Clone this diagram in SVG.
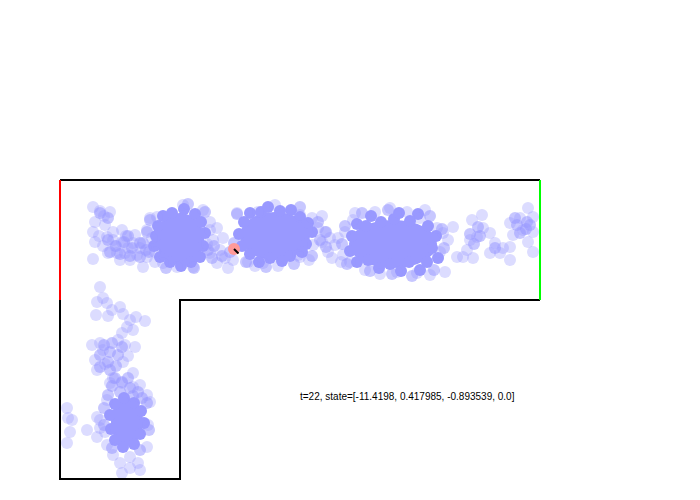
<svg xmlns="http://www.w3.org/2000/svg" width="700" height="500" viewBox="0 0 700 500">
<style>
.p circle,.p ellipse{fill:#9999ff;fill-opacity:.34}
.p .k{fill-opacity:1}
.p .m{fill-opacity:.55}
.w{fill:none;stroke:#000;stroke-width:2}
text{font-family:"Liberation Sans",Arial,sans-serif;font-size:10px;fill:#000}
</style>
<rect width="700" height="500" fill="#fff"/>
<g id="particles" class="p">
<!-- blob 1 -->
<ellipse class="k" cx="180" cy="239" rx="24" ry="26"/>
<circle class="k" cx="158" cy="226" r="6"/><circle class="k" cx="163" cy="216" r="6"/><circle class="k" cx="172" cy="213" r="6"/><circle class="k" cx="184" cy="209" r="6"/><circle class="k" cx="195" cy="214" r="6"/><circle class="k" cx="201" cy="222" r="6"/><circle class="k" cx="205" cy="233" r="6"/><circle class="k" cx="203" cy="246" r="6"/><circle class="k" cx="200" cy="257" r="6"/><circle class="k" cx="191" cy="262" r="6"/><circle class="k" cx="181" cy="266" r="6"/><circle class="k" cx="170" cy="262" r="6"/><circle class="k" cx="160" cy="257" r="6"/><circle class="k" cx="154" cy="246" r="6"/><circle class="k" cx="156" cy="236" r="6"/>
<circle class="m" cx="150" cy="220" r="6"/><circle class="m" cx="205" cy="212" r="6"/><circle class="m" cx="208" cy="250" r="6"/><circle class="m" cx="194" cy="268" r="6"/><circle class="m" cx="166" cy="268" r="6"/><circle class="m" cx="149" cy="252" r="6"/><circle class="m" cx="147" cy="232" r="6"/><circle class="m" cx="188" cy="204" r="6"/><circle class="m" cx="143" cy="243" r="6"/>
<!-- blob 2 -->
<ellipse class="k" cx="275" cy="236" rx="35" ry="24"/>
<circle class="k" cx="244" cy="222" r="6"/><circle class="k" cx="250" cy="213" r="6"/><circle class="k" cx="261" cy="212" r="6"/><circle class="k" cx="268" cy="207" r="6"/><circle class="k" cx="280" cy="211" r="6"/><circle class="k" cx="291" cy="210" r="6"/><circle class="k" cx="300" cy="217" r="6"/><circle class="k" cx="308" cy="223" r="6"/><circle class="k" cx="312" cy="232" r="6"/><circle class="k" cx="306" cy="244" r="6"/><circle class="k" cx="302" cy="252" r="6"/><circle class="k" cx="290" cy="256" r="6"/><circle class="k" cx="282" cy="261" r="6"/><circle class="k" cx="270" cy="258" r="6"/><circle class="k" cx="259" cy="262" r="6"/><circle class="k" cx="250" cy="254" r="6"/><circle class="k" cx="242" cy="246" r="6"/><circle class="k" cx="239" cy="234" r="6"/>
<circle class="m" cx="237" cy="214" r="6"/><circle class="m" cx="300" cy="207" r="6"/><circle class="m" cx="318" cy="222" r="6"/><circle class="m" cx="320" cy="240" r="6"/><circle class="m" cx="326" cy="247" r="6"/><circle class="m" cx="312" cy="256" r="6"/><circle class="m" cx="294" cy="264" r="6"/><circle class="m" cx="266" cy="267" r="6"/><circle class="m" cx="246" cy="262" r="6"/><circle class="m" cx="234" cy="243" r="6"/><circle class="m" cx="326" cy="232" r="6"/>
<!-- blob 3 -->
<ellipse class="k" cx="393" cy="244" rx="44" ry="24"/>
<circle class="k" cx="352" cy="236" r="6"/><circle class="k" cx="357" cy="224" r="6"/><circle class="k" cx="366" cy="226" r="6"/><circle class="k" cx="371" cy="216" r="6"/><circle class="k" cx="381" cy="222" r="6"/><circle class="k" cx="394" cy="219" r="6"/><circle class="k" cx="399" cy="213" r="6"/><circle class="k" cx="410" cy="221" r="6"/><circle class="k" cx="418" cy="214" r="6"/><circle class="k" cx="428" cy="226" r="6"/><circle class="k" cx="436" cy="236" r="6"/><circle class="k" cx="432" cy="248" r="6"/><circle class="k" cx="438" cy="258" r="6"/><circle class="k" cx="427" cy="262" r="6"/><circle class="k" cx="420" cy="270" r="6"/><circle class="k" cx="409" cy="262" r="6"/><circle class="k" cx="401" cy="271" r="6"/><circle class="k" cx="390" cy="264" r="6"/><circle class="k" cx="379" cy="268" r="6"/><circle class="k" cx="368" cy="260" r="6"/><circle class="k" cx="357" cy="262" r="6"/><circle class="k" cx="350" cy="251" r="6"/>
<circle class="m" cx="345" cy="226" r="6"/><circle class="m" cx="362" cy="213" r="6"/><circle class="m" cx="388" cy="210" r="6"/><circle class="m" cx="430" cy="216" r="6"/><circle class="m" cx="442" cy="229" r="6"/><circle class="m" cx="444" cy="248" r="6"/><circle class="m" cx="434" cy="270" r="6"/><circle class="m" cx="412" cy="276" r="6"/><circle class="m" cx="392" cy="274" r="6"/><circle class="m" cx="370" cy="271" r="6"/><circle class="m" cx="347" cy="264" r="6"/><circle class="m" cx="342" cy="244" r="6"/>
<!-- vertical core -->
<ellipse class="k" cx="127" cy="422" rx="16" ry="24"/>
<circle class="k" cx="115" cy="404" r="6"/><circle class="k" cx="124" cy="398" r="6"/><circle class="k" cx="134" cy="403" r="6"/><circle class="k" cx="141" cy="411" r="6"/><circle class="k" cx="144" cy="423" r="6"/><circle class="k" cx="140" cy="434" r="6"/><circle class="k" cx="134" cy="444" r="6"/><circle class="k" cx="123" cy="447" r="6"/><circle class="k" cx="115" cy="440" r="6"/><circle class="k" cx="111" cy="429" r="6"/><circle class="k" cx="110" cy="415" r="6"/>
<circle class="m" cx="104" cy="408" r="6"/><circle class="m" cx="147" cy="403" r="6"/><circle class="m" cx="149" cy="430" r="6"/><circle class="m" cx="140" cy="450" r="6"/><circle class="m" cx="112" cy="448" r="6"/><circle class="m" cx="104" cy="425" r="6"/>
<circle class="m" cx="115" cy="378" r="6"/><circle class="m" cx="122" cy="382" r="6"/><circle class="m" cx="112" cy="386" r="6"/><circle class="m" cx="130" cy="388" r="6"/><circle class="m" cx="138" cy="392" r="6"/><circle class="m" cx="142" cy="398" r="6"/><circle class="m" cx="120" cy="392" r="6"/><circle class="m" cx="133" cy="396" r="6"/><circle class="m" cx="108" cy="395" r="6"/><circle class="m" cx="128" cy="378" r="6"/>
<circle class="m" cx="104" cy="345" r="6"/><circle class="m" cx="112" cy="343" r="6"/><circle class="m" cx="110" cy="352" r="6"/><circle class="m" cx="100" cy="355" r="6"/><circle class="m" cx="118" cy="355" r="6"/><circle class="m" cx="108" cy="362" r="6"/><circle class="m" cx="116" cy="366" r="6"/><circle class="m" cx="100" cy="367" r="6"/><circle class="m" cx="122" cy="347" r="6"/><circle class="m" cx="110" cy="370" r="6"/>
<!-- left horizontal -->
<circle class="m" cx="108" cy="240" r="6"/><circle class="m" cx="116" cy="246" r="6"/><circle class="m" cx="124" cy="242" r="6"/><circle class="m" cx="132" cy="248" r="6"/><circle class="m" cx="140" cy="243" r="6"/><circle class="m" cx="146" cy="250" r="6"/><circle class="m" cx="120" cy="254" r="6"/><circle class="m" cx="130" cy="256" r="6"/><circle class="m" cx="140" cy="257" r="6"/><circle class="m" cx="110" cy="252" r="6"/><circle class="m" cx="100" cy="213" r="6"/><circle class="m" cx="108" cy="218" r="6"/><circle class="m" cx="128" cy="236" r="6"/>
<circle cx="93" cy="207" r="6"/><circle cx="100" cy="211" r="6"/><circle cx="110" cy="212" r="6"/><circle cx="104" cy="216" r="6"/><circle cx="95" cy="222" r="6"/><circle cx="105" cy="225" r="6"/><circle cx="93" cy="232" r="6"/><circle cx="99" cy="236" r="6"/><circle cx="95" cy="242" r="6"/><circle cx="107" cy="237" r="6"/><circle cx="113" cy="232" r="6"/><circle cx="122" cy="230" r="6"/><circle cx="122" cy="242" r="6"/><circle cx="115" cy="246" r="6"/><circle cx="108" cy="253" r="6"/><circle cx="117" cy="253" r="6"/><circle cx="125" cy="253" r="6"/><circle cx="133" cy="243" r="6"/><circle cx="137" cy="255" r="6"/><circle cx="130" cy="260" r="6"/><circle cx="143" cy="267" r="6"/><circle cx="93" cy="259" r="6"/><circle cx="128" cy="248" r="6"/><circle cx="140" cy="248" r="6"/><circle cx="120" cy="260" r="6"/><circle cx="113" cy="240" r="6"/><circle cx="126" cy="236" r="6"/><circle cx="135" cy="235" r="6"/><circle cx="103" cy="246" r="6"/>
<!-- blob 1 light -->
<circle cx="150" cy="218" r="6"/><circle cx="157" cy="217" r="6"/><circle cx="183" cy="205" r="6"/><circle cx="203" cy="210" r="6"/><circle cx="147" cy="230" r="6"/><circle cx="152" cy="238" r="6"/><circle cx="155" cy="252" r="6"/><circle cx="147" cy="257" r="6"/><circle cx="163" cy="263" r="6"/><circle cx="177" cy="267" r="6"/><circle cx="193" cy="267" r="6"/><circle cx="207" cy="244" r="6"/><circle cx="155" cy="262" r="6"/><circle cx="210" cy="230" r="6"/>
<!-- between -->
<circle cx="217" cy="228" r="6"/><circle cx="213" cy="240" r="6"/><circle cx="223" cy="238" r="6"/><circle cx="220" cy="250" r="6"/><circle cx="210" cy="253" r="6"/><circle cx="217" cy="263" r="6"/><circle cx="228" cy="268" r="6"/><circle cx="225" cy="258" r="6"/><circle cx="233" cy="260" r="6"/><circle cx="210" cy="222" r="6"/><circle class="m" cx="214" cy="246" r="6"/><circle class="m" cx="222" cy="256" r="6"/><circle class="m" cx="230" cy="252" r="6"/><circle class="m" cx="212" cy="258" r="6"/>
<!-- blob 2 light -->
<circle cx="237" cy="213" r="6"/><circle cx="258" cy="212" r="6"/><circle cx="275" cy="205" r="6"/><circle cx="300" cy="215" r="6"/><circle cx="248" cy="262" r="6"/><circle cx="263" cy="263" r="6"/><circle cx="298" cy="255" r="6"/><circle cx="312" cy="218" r="6"/><circle cx="318" cy="228" r="6"/><circle cx="325" cy="232" r="6"/><circle cx="330" cy="238" r="6"/><circle cx="322" cy="242" r="6"/><circle cx="313" cy="245" r="6"/><circle cx="300" cy="257" r="6"/><circle cx="328" cy="252" r="6"/><circle cx="335" cy="245" r="6"/><circle cx="255" cy="266" r="6"/><circle cx="278" cy="266" r="6"/><circle cx="309" cy="260" r="6"/><circle cx="332" cy="258" r="6"/><circle cx="322" cy="216" r="6"/>
<!-- blob 3 light -->
<circle cx="345" cy="232" r="6"/><circle cx="343" cy="255" r="6"/><circle cx="350" cy="262" r="6"/><circle cx="353" cy="220" r="6"/><circle cx="375" cy="212" r="6"/><circle cx="390" cy="208" r="6"/><circle cx="407" cy="212" r="6"/><circle cx="420" cy="218" r="6"/><circle cx="437" cy="228" r="6"/><circle cx="440" cy="252" r="6"/><circle cx="430" cy="275" r="6"/><circle cx="445" cy="272" r="6"/><circle cx="417" cy="273" r="6"/><circle cx="397" cy="272" r="6"/><circle cx="365" cy="270" r="6"/><circle cx="453" cy="227" r="6"/><circle cx="448" cy="240" r="6"/><circle cx="457" cy="257" r="6"/><circle cx="463" cy="257" r="6"/><circle cx="443" cy="233" r="6"/><circle cx="341" cy="262" r="6"/><circle cx="380" cy="274" r="6"/><circle cx="355" cy="213" r="6"/><circle cx="338" cy="238" r="6"/><circle cx="425" cy="210" r="6"/>
<!-- cluster 4 -->
<circle cx="472" cy="220" r="6"/><circle cx="482" cy="215" r="6"/><circle cx="477" cy="237" r="6"/><circle cx="470" cy="240" r="6"/><circle cx="483" cy="228" r="6"/><circle cx="467" cy="250" r="6"/><circle cx="473" cy="258" r="6"/><circle cx="490" cy="233" r="6"/><circle cx="495" cy="243" r="6"/><circle cx="503" cy="248" r="6"/><circle cx="490" cy="253" r="6"/><circle cx="500" cy="253" r="6"/><circle cx="510" cy="260" r="6"/><circle cx="510" cy="247" r="6"/><circle class="m" cx="478" cy="227" r="6"/><circle class="m" cx="474" cy="244" r="6"/><circle class="m" cx="480" cy="236" r="6"/><circle class="m" cx="470" cy="234" r="6"/><circle class="m" cx="495" cy="248" r="6"/>
<!-- right cluster -->
<circle cx="528" cy="208" r="6"/><circle cx="510" cy="223" r="6"/><circle cx="520" cy="218" r="6"/><circle cx="523" cy="230" r="6"/><circle cx="533" cy="217" r="6"/><circle cx="533" cy="232" r="6"/><circle cx="528" cy="242" r="6"/><circle cx="513" cy="235" r="6"/><circle cx="533" cy="252" r="6"/><circle class="m" cx="517" cy="225" r="6"/><circle class="m" cx="527" cy="222" r="6"/><circle class="m" cx="520" cy="233" r="6"/><circle class="m" cx="515" cy="218" r="6"/><circle class="m" cx="526" cy="229" r="6"/><circle class="m" cx="530" cy="225" r="6"/>
<!-- vertical light -->
<circle cx="100" cy="287" r="6"/><circle cx="103" cy="298" r="6"/><circle cx="97" cy="302" r="6"/><circle cx="107" cy="303" r="6"/><circle cx="112" cy="310" r="6"/><circle cx="120" cy="307" r="6"/><circle cx="96" cy="315" r="6"/><circle cx="108" cy="316" r="6"/><circle cx="123" cy="314" r="6"/><circle cx="130" cy="320" r="6"/><circle cx="136" cy="317" r="6"/><circle cx="145" cy="321" r="6"/><circle cx="127" cy="327" r="6"/><circle cx="122" cy="333" r="6"/><circle cx="133" cy="330" r="6"/><circle cx="118" cy="340" r="6"/><circle cx="100" cy="343" r="6"/><circle cx="95" cy="360" r="6"/><circle cx="105" cy="364" r="6"/><circle cx="123" cy="362" r="6"/><circle cx="128" cy="356" r="6"/><circle cx="97" cy="370" r="6"/><circle cx="133" cy="373" r="6"/><circle cx="125" cy="345" r="6"/><circle cx="135" cy="347" r="6"/><circle cx="103" cy="350" r="6"/><circle cx="113" cy="378" r="6"/><circle cx="110" cy="383" r="6"/><circle cx="122" cy="383" r="6"/><circle cx="133" cy="387" r="6"/><circle cx="147" cy="395" r="6"/><circle cx="107" cy="400" r="6"/><circle cx="97" cy="417" r="6"/><circle cx="100" cy="420" r="6"/><circle cx="87" cy="430" r="6"/><circle cx="97" cy="437" r="6"/><circle cx="105" cy="432" r="6"/><circle cx="147" cy="447" r="6"/><circle cx="113" cy="455" r="6"/><circle cx="130" cy="457" r="6"/><circle cx="120" cy="463" r="6"/><circle cx="138" cy="463" r="6"/><circle cx="122" cy="473" r="6"/><circle cx="130" cy="468" r="6"/><circle cx="140" cy="470" r="6"/><circle cx="67" cy="408" r="6"/><circle cx="68" cy="418" r="6"/><circle cx="72" cy="420" r="6"/><circle cx="70" cy="432" r="6"/><circle cx="67" cy="443" r="6"/><circle cx="150" cy="402" r="6"/><circle cx="100" cy="428" r="6"/><circle cx="107" cy="445" r="6"/><circle cx="148" cy="425" r="6"/><circle cx="92" cy="345" r="6"/><circle cx="140" cy="385" r="6"/>
</g>
<g id="walls">
<path class="w" d="M60 180H540M60 300V479H180V300H540"/>
<path d="M60 180V300" fill="none" stroke="#f00" stroke-width="2"/>
<path d="M540 180V300" fill="none" stroke="#0f0" stroke-width="2"/>
</g>
<g id="robot">
<circle cx="234" cy="249" r="6" fill="#ff9999"/>
<path d="M234 249L238.5 253.5" stroke="#000" stroke-width="2"/>
</g>
<text x="300" y="400">t=22, state=[-11.4198, 0.417985, -0.893539, 0.0]</text>
</svg>
